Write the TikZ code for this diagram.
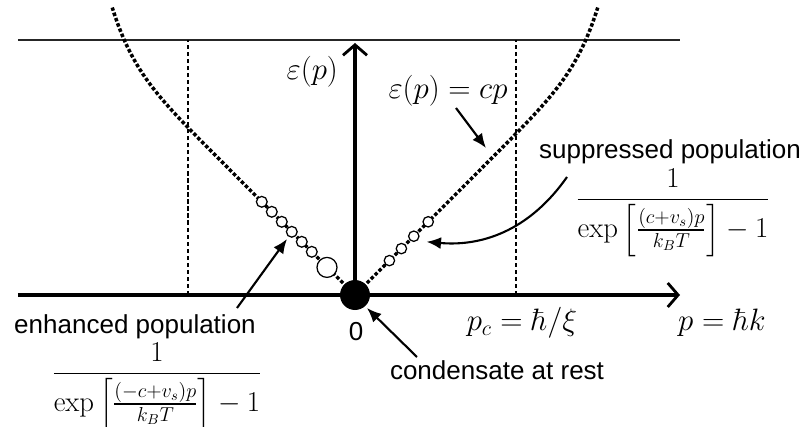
\RequirePackage{fix-cm}
\documentclass[tikz,border=0pt]{standalone}
\usepackage{amsmath}
\usepackage[no-math]{fontspec}
\setmainfont{Liberation Sans}
\usetikzlibrary{arrows.meta}

\begin{document}
\begin{tikzpicture}[
  txt/.style={font=\fontsize{18.5}{21}\selectfont,inner sep=0pt},
  mth/.style={font=\fontsize{22}{26}\selectfont,inner sep=0pt},
  frc/.style={font=\fontsize{20.5}{24}\selectfont,inner sep=0pt},
  axis/.style={line width=2.2pt,-{Straight Barb[length=2.6mm,width=6mm,line width=2pt]}},
  arr/.style={-{Latex[length=3.6mm,width=3mm]},line width=1.5pt},
  guide/.style={line width=1pt,dash pattern=on 3pt off 2pt},
  disp/.style={line width=2.5pt,dash pattern=on 2.5pt off 1.5pt},
  pop/.style={circle,draw,fill=white,line width=0.9pt,inner sep=0pt,minimum size=#1}
]
  \useasboundingbox (-8.875,-3.275) rectangle (11.3,7.375);

  % frame and guides
  \coordinate (O) at (0,0);
  \coordinate (xmin) at (-8.425,0);
  \coordinate (xmax) at (8.125,0);
  \coordinate (ymax) at (0,6.3);
  \coordinate (topL) at (-8.425,6.375);
  \coordinate (topR) at (8.125,6.375);
  \coordinate (pcLlo) at (-4.175,0);
  \coordinate (pcLhi) at (-4.175,6.375);
  \coordinate (pcRlo) at (4.025,0);
  \coordinate (pcRhi) at (4.025,6.375);
  \draw[line width=1.2pt,black!85] (topL) -- (topR);
  \draw[guide] (pcLlo) -- (pcLhi);
  \draw[guide] (pcRlo) -- (pcRhi);

  % dispersion
  \draw[disp] plot[domain=0:6.07,samples=80,variable=\u] ({\u},{\u+1.075*(\u/6.05)^12});
  \draw[disp] plot[domain=0:6.07,samples=80,variable=\u] ({-\u},{\u+1.075*(\u/6.05)^12});

  \draw[axis] (xmin) -- (xmax);
  \draw[axis] (O) -- (ymax);

  % populations
  \foreach \u [count=\i] in {1.08,1.33,1.58,1.83,2.08,2.33}
    \node[pop=0.27cm] (enh\i) at (-\u,\u) {};
  \node[pop=0.5cm] (enhBig) at (-0.7,0.69) {};
  \foreach \u [count=\i] in {0.86,1.16,1.47,1.83}
    \node[pop=0.26cm] (sup\i) at (\u,\u) {};
  \node[circle,fill=black,inner sep=0pt,minimum size=0.75cm] (cond) at (O) {};

  % labels
  \node[mth,anchor=east] (lblEps) at (-0.42,5.575) {$\varepsilon(p)$};
  \node[mth] (lblCp) at (2.325,5.1) {$\varepsilon(p)=cp$};
  \node[txt] (lblSupp) at (7.875,3.575) {suppressed population};
  \node[frc] (fracSupp) at (7.95,2.06)
    {$\dfrac{1}{\exp\left[\frac{(c+v_s)p}{k_BT}\right]-1}$};
  \node[txt] (lblEnh) at (-5.5,-0.8) {enhanced population};
  \node[frc] (fracEnh) at (-4.95,-2.29)
    {$\dfrac{1}{\exp\left[\frac{(-c+v_s)p}{k_BT}\right]-1}$};
  \node[txt] (lblZero) at (0.025,-0.925) {0};
  \node[mth] (lblPc) at (4.175,-0.7) {$p_c=\hbar/\xi$};
  \node[mth] (lblP) at (9.175,-0.7) {$p=\hbar k$};
  \node[txt] (lblCond) at (3.55,-1.875) {condensate at rest};

  % pointers
  \coordinate (cpTail) at (2.525,4.675);
  \coordinate (cpHead) at (3.275,3.675);
  \coordinate (supTail) at (5.3,2.95);
  \coordinate (supHead) at (1.79,1.33);
  \coordinate (enhTail) at (-2.95,-0.325);
  \coordinate (enhHead) at (-1.7,1.4);
  \coordinate (condTail) at (1.55,-1.55);
  \coordinate (condHead) at (0.3,-0.325);
  \draw[arr] (cpTail) -- (cpHead);
  \draw[arr] (supTail) to[out=-125,in=-5] (supHead);
  \draw[arr] (enhTail) -- (enhHead);
  \draw[arr] (condTail) -- (condHead);
\end{tikzpicture}
\end{document}
